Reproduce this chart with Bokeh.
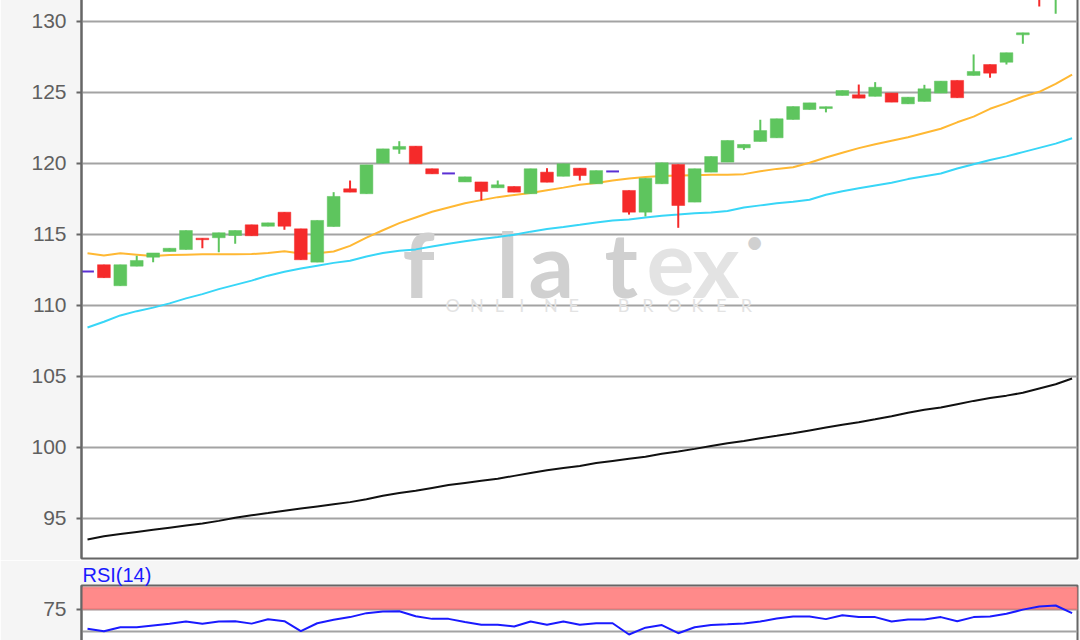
from bokeh.plotting import figure
from bokeh.models import ColumnDataSource, Range1d, FixedTicker, BoxAnnotation, Label
from bokeh.layouts import column
from bokeh.embed import file_html
from bokeh.resources import INLINE

# ---------------- data ----------------
idx = list(range(61))
open_ = [112.4, 112.87, 111.39, 112.77, 113.4, 113.8, 113.94, 114.74, 114.77, 114.93,
         115.68, 115.58, 116.57, 115.4, 113.05, 115.56, 118.22, 117.87, 120.02, 121.0,
         121.22, 119.63, 119.3, 118.7, 118.7, 118.29, 118.38, 117.87, 119.39, 119.1,
         119.67, 118.57, 119.44, 118.1, 116.57, 118.57, 119.93, 117.28, 119.39, 120.1,
         121.1, 121.55, 121.81, 123.1, 123.8, 123.87, 124.79, 124.84, 124.73, 124.96,
         124.2, 124.37, 124.96, 125.85, 126.2, 126.97, 127.13, 129.06, 132.6, 131.8, 133.4]
close = [112.4, 111.96, 112.87, 113.17, 113.7, 114.03, 115.28, 114.63, 115.12, 115.28,
         114.91, 115.82, 115.58, 113.22, 115.99, 117.68, 117.98, 119.9, 121.03, 121.2,
         119.98, 119.27, 119.3, 119.06, 118.03, 118.5, 117.98, 119.63, 118.68, 119.98,
         119.15, 119.5, 119.44, 116.57, 118.96, 120.05, 117.04, 119.63, 120.49, 121.62,
         121.34, 122.32, 123.15, 124.01, 124.27, 124.0, 125.14, 124.6, 125.37, 124.32,
         124.67, 125.26, 125.8, 124.63, 126.48, 126.36, 127.8, 129.2, 131.7, 133.1, 132.7]
high = [112.4, 112.87, 112.87, 113.5, 113.7, 114.03, 115.28, 114.74, 115.12, 115.28,
        115.68, 115.82, 116.57, 115.4, 115.99, 117.98, 118.8, 119.9, 121.03, 121.57,
        121.22, 119.63, 119.3, 119.06, 118.7, 118.8, 118.38, 119.63, 119.67, 119.98,
        119.67, 119.5, 119.44, 118.1, 118.96, 120.05, 119.93, 119.63, 120.49, 121.62,
        121.34, 123.08, 123.15, 124.01, 124.27, 124.0, 125.14, 125.56, 125.73, 124.96,
        124.67, 125.54, 125.8, 125.85, 127.68, 126.97, 127.8, 129.2, 132.9, 133.4, 133.9]
low = [112.4, 111.96, 111.39, 112.77, 113.05, 113.8, 113.94, 114.03, 113.75, 114.35,
       114.91, 115.58, 115.33, 113.22, 113.05, 115.56, 117.98, 117.87, 120.02, 120.68,
       119.98, 119.27, 119.3, 118.7, 117.4, 118.29, 117.98, 117.87, 118.68, 119.1,
       118.8, 118.57, 119.44, 116.4, 116.27, 118.57, 115.47, 117.28, 119.39, 120.1,
       120.96, 121.55, 121.81, 123.1, 123.8, 123.6, 124.79, 124.6, 124.73, 124.32,
       124.2, 124.37, 124.96, 124.63, 126.2, 126.04, 126.97, 128.43, 131.06, 130.54, 132.3]

sma20 = [113.68, 113.52, 113.68, 113.58, 113.48, 113.55, 113.58, 113.6, 113.6, 113.6,
         113.62, 113.7, 113.82, 113.66, 113.68, 113.8, 114.2, 114.78, 115.3, 115.8,
         116.2, 116.6, 116.9, 117.2, 117.42, 117.63, 117.78, 117.92, 118.12, 118.3,
         118.5, 118.62, 118.8, 118.95, 119.05, 119.12, 119.15, 119.18, 119.2, 119.2,
         119.25, 119.45, 119.62, 119.74, 120.05, 120.42, 120.75, 121.08, 121.35, 121.6,
         121.85, 122.15, 122.45, 122.9, 123.3, 123.85, 124.25, 124.7, 125.05, 125.6, 126.25]
sma50 = [108.45, 108.85, 109.3, 109.6, 109.85, 110.15, 110.5, 110.8, 111.15, 111.45,
         111.75, 112.1, 112.38, 112.6, 112.8, 113.0, 113.15, 113.45, 113.7, 113.85,
         113.95, 114.15, 114.35, 114.52, 114.68, 114.82, 114.98, 115.2, 115.38, 115.52,
         115.68, 115.85, 115.98, 116.05, 116.2, 116.32, 116.4, 116.5, 116.55, 116.65,
         116.9, 117.05, 117.2, 117.3, 117.45, 117.8, 118.05, 118.25, 118.45, 118.65,
         118.9, 119.1, 119.3, 119.65, 119.95, 120.25, 120.5, 120.8, 121.1, 121.4, 121.78]
sma200 = [93.52, 93.75, 93.9, 94.05, 94.2, 94.35, 94.5, 94.65, 94.83, 95.05,
          95.22, 95.38, 95.55, 95.7, 95.85, 96.0, 96.15, 96.35, 96.6, 96.8,
          96.95, 97.15, 97.35, 97.5, 97.65, 97.8, 98.0, 98.2, 98.4, 98.55,
          98.7, 98.9, 99.05, 99.2, 99.35, 99.55, 99.72, 99.9, 100.1, 100.3,
          100.45, 100.65, 100.82, 101.0, 101.2, 101.4, 101.6, 101.78, 101.98, 102.2,
          102.45, 102.65, 102.82, 103.05, 103.28, 103.48, 103.65, 103.85, 104.15, 104.45, 104.86]
rsi = [52.7, 50.0, 54.5, 54.5, 56.5, 58.5, 61.0, 58.5, 61.0, 61.2,
       58.6, 63.5, 61.4, 50.0, 59.0, 63.0, 66.0, 70.5, 72.5, 72.7,
       67.0, 64.0, 64.0, 60.5, 57.3, 57.3, 55.3, 61.0, 57.3, 61.0,
       57.3, 59.0, 59.0, 46.2, 54.0, 57.0, 47.7, 54.5, 57.0, 57.8,
       58.8, 61.0, 64.5, 66.7, 66.7, 63.7, 68.2, 66.0, 66.0, 61.0,
       63.3, 63.3, 66.0, 61.4, 66.0, 66.7, 69.8, 74.5, 78.0, 79.2, 70.5]

price_ticks = [95, 100, 105, 110, 115, 120, 125, 130]
rsi_ticks = [75]
rsi_grid = [50, 75]

# ---------------- styles ----------------
GREEN = "#5ec55e"
RED = "#f52a2a"
DOJI = "#5a2fd4"
BG = "#f5f5f5"
FONT = "Liberation Sans"

colors = []
for o, c in zip(open_, close):
    colors.append(GREEN if c > o else (RED if c < o else DOJI))

src = ColumnDataSource(dict(
    x=idx, open=open_, close=close, high=high, low=low,
    top=[max(o, c) for o, c in zip(open_, close)],
    bottom=[min(o, c) for o, c in zip(open_, close)],
    color=colors,
    xl=[i - 0.39 for i in idx], xr=[i + 0.39 for i in idx],
    sma20=sma20, sma50=sma50, sma200=sma200, rsi=rsi,
))
body_idx = [i for i in idx if open_[i] != close[i]]
doji_idx = [i for i in idx if open_[i] == close[i]]
body_src = ColumnDataSource({k: [v[i] for i in body_idx] for k, v in src.data.items()})
doji_src = ColumnDataSource({k: [v[i] for i in doji_idx] for k, v in src.data.items()})

x_range = Range1d(-0.366, 60.33)

p = figure(width=1080, height=563, x_range=x_range, y_range=Range1d(92.18, 131.69),
           output_backend="svg", toolbar_location=None, x_axis_location=None,
           min_border_left=81, min_border_right=3, min_border_top=0, min_border_bottom=2)
p.background_fill_color = "white"
p.border_fill_color = BG
p.outline_line_color = "#666666"
p.outline_line_width = 2
for g in p.xgrid:
    g.visible = False

ax = p.yaxis[0]
ax.ticker = FixedTicker(ticks=price_ticks)
ax.major_label_text_font_size = "21px"
ax.major_label_text_font = FONT
ax.major_label_text_color = "#5f5f5f"
ax.major_tick_out = 5
ax.major_tick_in = 0
ax.minor_tick_out = 0
ax.minor_tick_in = 0
ax.major_label_standoff = 10
ax.axis_line_color = "#666666"
ax.axis_line_width = 2
ax.major_tick_line_color = "#666666"
ax.major_tick_line_width = 2
p.ygrid.ticker = FixedTicker(ticks=price_ticks)
p.ygrid.grid_line_color = "#a3a3a3"
p.ygrid.grid_line_width = 2

# watermark (decorative logo text)
wm_letters = ["f", "l", "a", "t", "e", "x"]
wm_page_x = [402, 496, 528, 604, 646, 692]
wm_cols = ["#d0d0d0", "#d0d0d0", "#d0d0d0", "#d0d0d0", "#e3e3e3", "#e3e3e3"]
for ch, px, col in zip(wm_letters, wm_page_x, wm_cols):
    p.add_layout(Label(x=px - 81, y=558 - 262, x_units="screen", y_units="screen",
                       text=ch, text_font="Lato", text_font_style="bold",
                       text_font_size="90px", text_color=col,
                       text_baseline="alphabetic", level="underlay"))
p.add_layout(Label(x=754 - 81, y=558 - 240, x_units="screen", y_units="screen",
                   text="\u2022", text_font="Lato", text_font_size="34px",
                   text_color="#d0d0d0", text_align="center",
                   text_baseline="middle", level="underlay"))
sub = "ONLINE BROKER"
for k, ch in enumerate(sub):
    if ch == " ":
        continue
    p.add_layout(Label(x=445 - 81 + k * 24.6, y=558 - 304, x_units="screen", y_units="screen",
                       text=ch, text_font="Lato", text_font_size="18px",
                       text_color="#e3e3e3", text_baseline="alphabetic",
                       level="underlay"))

# moving averages
p.line("x", "sma200", source=src, line_color="#111111", line_width=2)
p.line("x", "sma50", source=src, line_color="#38d6f7", line_width=2)
p.line("x", "sma20", source=src, line_color="#ffb833", line_width=2)

# candles
p.segment("x", "high", "x", "low", source=body_src, line_color="color", line_width=2)
p.vbar(x="x", top="top", bottom="bottom", width=0.78, source=body_src,
       fill_color="color", line_color="color", line_width=0.5)
p.segment("xl", "close", "xr", "close", source=doji_src, line_color="color", line_width=2)

# ---------------- RSI panel ----------------
r = figure(width=1080, height=83, x_range=x_range, y_range=Range1d(36.0, 101.93),
           output_backend="svg", toolbar_location=None, x_axis_location=None,
           min_border_left=81, min_border_right=3, min_border_top=25, min_border_bottom=0,
           title="RSI(14)")
r.background_fill_color = "white"
r.border_fill_color = BG
r.outline_line_color = "#666666"
r.outline_line_width = 2
r.title.text_color = "#1a1aff"
r.title.text_font_size = "20px"
r.title.text_font = FONT
r.title.text_font_style = "normal"
r.title.align = "left"
r.title.offset = 1
r.title.standoff = 0
for g in r.xgrid:
    g.visible = False
ra = r.yaxis[0]
ra.ticker = FixedTicker(ticks=rsi_ticks)
ra.major_label_text_font_size = "21px"
ra.major_label_text_font = FONT
ra.major_label_text_color = "#5f5f5f"
ra.major_tick_out = 5
ra.major_tick_in = 0
ra.minor_tick_out = 0
ra.minor_tick_in = 0
ra.major_label_standoff = 10
ra.axis_line_color = "#666666"
ra.axis_line_width = 2
ra.major_tick_line_color = "#666666"
ra.major_tick_line_width = 2
r.ygrid.ticker = FixedTicker(ticks=rsi_grid)
r.ygrid.grid_line_color = "#a3a3a3"
r.ygrid.grid_line_width = 2

r.add_layout(BoxAnnotation(bottom=75, top=100, fill_color="#ff8a8a", fill_alpha=1.0,
                           line_color="#d05a5a", line_width=2, level="underlay"))
r.line("x", "rsi", source=src, line_color="#1a1aff", line_width=2)

layout = column(p, r, spacing=0,
                styles={"position": "absolute", "top": "-3px", "left": "0px"})

open("out.html", "w").write(file_html(layout, INLINE))
